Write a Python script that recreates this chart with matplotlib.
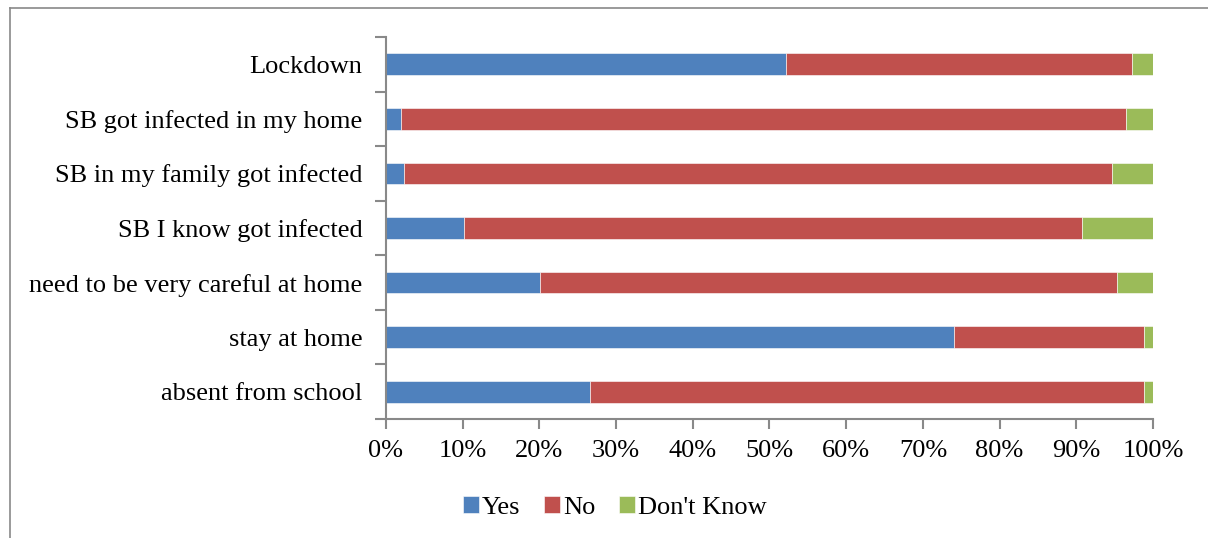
import matplotlib.pyplot as plt
from matplotlib.lines import Line2D
import numpy as np

categories = ["absent from school", "stay at home", "need to be very careful at home",
              "SB I know got infected", "SB in my family got infected",
              "SB got infected in my home", "Lockdown"]
yes = [26.6, 74.1, 20.1, 10.2, 2.3, 2.0, 52.2]
no = [72.2, 24.7, 75.2, 80.5, 92.4, 94.5, 45.1]
dont_know = [1.2, 1.2, 4.7, 9.3, 5.3, 3.5, 2.7]

colors = ["#4F81BD", "#C0504D", "#9BBB59"]
labels = ["Yes", "No", "Don't Know"]

plt.rcParams["font.family"] = ["Liberation Serif", "DejaVu Serif"]
fontsize = 19

fig = plt.figure(figsize=(12.08, 5.38), dpi=100)
ax = fig.add_axes([0.3195, 0.2212, 0.635, 0.71])

y = np.arange(len(categories))
left = np.zeros(len(categories))
for vals, c, lab in zip([yes, no, dont_know], colors, labels):
    ax.barh(y, vals, left=left, height=0.4, color=c, label=lab,
            edgecolor="white", linewidth=0.4)
    left += np.array(vals)

ax.set_xlim(0, 100)
ax.set_ylim(-0.5, len(categories) - 0.5)
ax.set_xticks(np.arange(0, 101, 10))
ax.set_xticklabels([f"{v}%" for v in range(0, 101, 10)], fontsize=fontsize)

# category labels sit between the boundary ticks
ax.set_yticks(np.arange(-0.5, len(categories), 1))
ax.set_yticklabels([])
ax.set_yticks(y, minor=True)
ax.set_yticklabels(categories, minor=True, fontsize=fontsize)
ax.tick_params(axis="y", which="minor", length=0, pad=17)
ax.tick_params(axis="y", which="major", length=8, width=1.5, color="#898989")
ax.tick_params(axis="x", length=7, width=1.5, color="#898989", pad=8)

for s in ["top", "right"]:
    ax.spines[s].set_visible(False)
for s in ["left", "bottom"]:
    ax.spines[s].set_color("#898989")
    ax.spines[s].set_linewidth(1.5)

handles, labs = ax.get_legend_handles_labels()
fig.legend(handles, labs, loc="center", bbox_to_anchor=(0.509, 0.057), ncol=3,
           frameon=False, fontsize=fontsize, handlelength=0.6, handleheight=0.6,
           handletextpad=0.12, columnspacing=0.9)

# outer chart border
fig.add_artist(Line2D([10 / 1208, 10 / 1208], [0, 1 - 8 / 538], transform=fig.transFigure,
                      color="#898989", linewidth=1.2))
fig.add_artist(Line2D([10 / 1208, 1], [1 - 8 / 538, 1 - 8 / 538], transform=fig.transFigure,
                      color="#898989", linewidth=1.2))

fig.savefig("out.png", dpi=100)
